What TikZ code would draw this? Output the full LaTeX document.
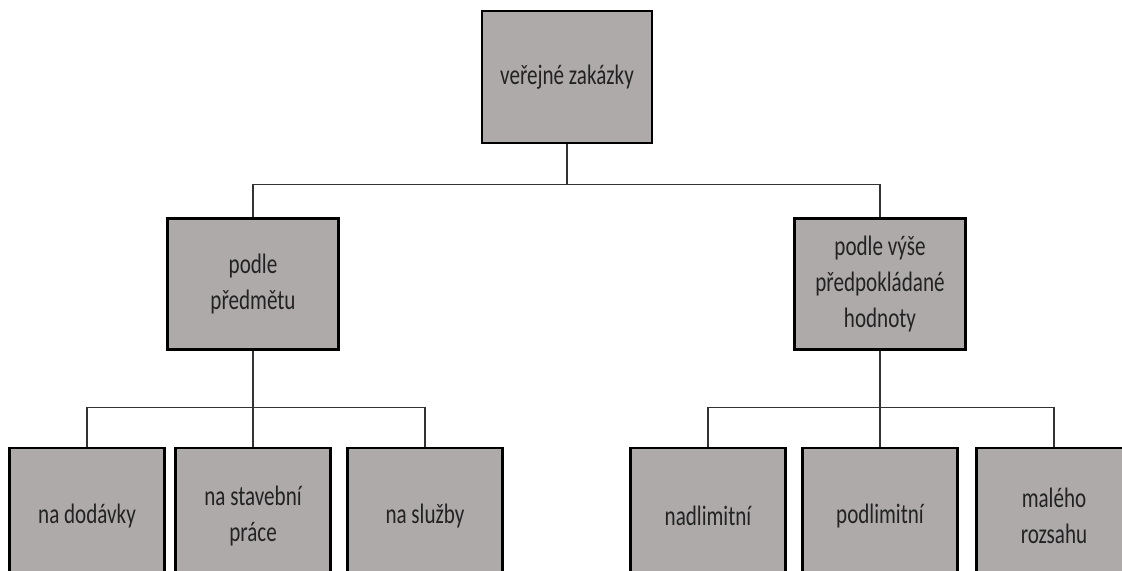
\documentclass[tikz,border=0pt]{standalone}
\usepackage{fontspec}
\setmainfont[FakeStretch=0.75]{Carlito}
\definecolor{boxgray}{RGB}{174,170,170}
\definecolor{textgray}{RGB}{34,34,34}
\begin{document}
\begin{tikzpicture}[x=0.02cm,y=-0.02cm,
  box/.style={rectangle,draw=black,line width=1.2pt,fill=boxgray,text=textgray,
    align=center,inner sep=0pt,font=\fontsize{16}{20.5}\selectfont},
  link/.style={draw=black!80,line width=0.6pt}]
  \useasboundingbox (0,0) rectangle (1122,571);
  \clip (0,0) rectangle (1122,571);

  % Root
  \node[box,minimum width=3.4cm,minimum height=2.64cm] (root) at (567,77) {veřejné zakázky};

  % Second level
  \node[box,minimum width=3.42cm,minimum height=2.62cm] (subj) at (253,284) {podle\\předmětu};
  \node[box,minimum width=3.42cm,minimum height=2.62cm] (value) at (880,284) {podle výše\\předpokládané\\hodnoty};

  % Third level
  \foreach \x/\name/\txt in {87/subj-1/na dodávky, 253/subj-2/{na stavební\\práce}, 425/subj-3/na služby,
                             708/value-1/nadlimitní, 880/value-2/podlimitní, 1054/value-3/{malého\\rozsahu}}
    \node[box,minimum width=3.1cm,minimum height=2.72cm] (\name) at (\x,516) {\txt};

  % Connect root to second level
  \path (root.south) ++(0,40) coordinate (j-root);
  \draw[link] (root.south) -- (j-root);
  \draw[link] (subj.north) |- (j-root) -| (value.north);

  % Connect second level to third level
  \foreach \parent in {subj,value} {
    \path (\parent.south) ++(0,57) coordinate (j-\parent);
    \draw[link] (\parent.south) -- (\parent-2.north);
    \draw[link] (\parent-1.north) |- (j-\parent) -| (\parent-3.north);
  }
\end{tikzpicture}
\end{document}
